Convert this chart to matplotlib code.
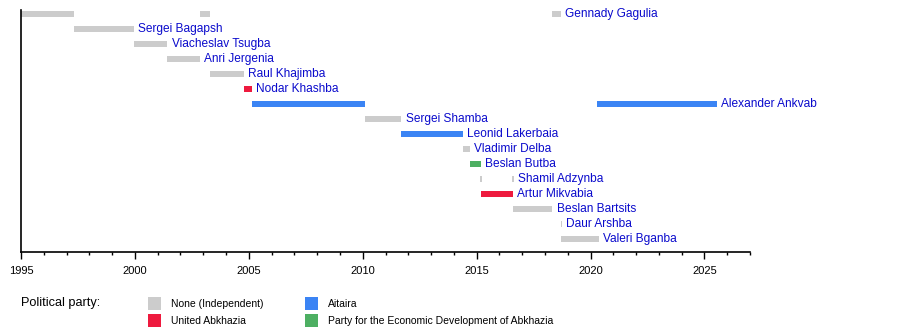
import matplotlib
matplotlib.use("Agg")
import matplotlib.pyplot as plt
from matplotlib.patches import Rectangle
from matplotlib.ticker import MultipleLocator

plt.rcParams["font.family"] = ["Liberation Sans", "DejaVu Sans"]

# --- data (decimal years) ---
names = ["Gennady Gagulia", "Sergei Bagapsh", "Viacheslav Tsugba", "Anri Jergenia",
         "Raul Khajimba", "Nodar Khashba", "Alexander Ankvab", "Sergei Shamba",
         "Leonid Lakerbaia", "Vladimir Delba", "Beslan Butba", "Shamil Adzynba",
         "Artur Mikvabia", "Beslan Bartsits", "Daur Arshba", "Valeri Bganba"]
parties = ["none", "none", "none", "none", "none", "ua", "aitaira", "none",
           "aitaira", "none", "ped", "none", "ua", "none", "none", "none"]
terms = [
    [(1995.0, 1997.32), (2002.87, 2003.28), (2018.3, 2018.72)],
    [(1997.32, 1999.97)],
    [(1999.97, 2001.43)],
    [(2001.43, 2002.87)],
    [(2003.3, 2004.77)],
    [(2004.77, 2005.12)],
    [(2005.12, 2010.12), (2020.3, 2025.55)],
    [(2010.12, 2011.7)],
    [(2011.7, 2014.38)],
    [(2014.38, 2014.72)],
    [(2014.72, 2015.2)],
    [(2015.16, 2015.22), (2016.56, 2016.62)],
    [(2015.2, 2016.58)],
    [(2016.58, 2018.33)],
    [(2018.7, 2018.76)],
    [(2018.7, 2020.38)],
]

party_colors = {"none": "#cccccc", "ua": "#ee1a3e", "aitaira": "#3b84f4",
                "ped": "#4daf62"}
legend_rows = [("none", "None (Independent)"), ("ua", "United Abkhazia"),
               ("aitaira", "Aitaira"),
               ("ped", "Party for the Economic Development of Abkhazia")]

W, H = 900, 330
fig = plt.figure(figsize=(9, 3.3), dpi=100)
ax = fig.add_axes([21 / W, 1 - 252 / H, (750 - 21) / W, (252 - 10) / H])

for i, (name, party, spans) in enumerate(zip(names, parties, terms)):
    for s, e in spans:
        ax.barh(i, e - s, left=s, height=0.42, color=party_colors[party], lw=0)
    ax.text(spans[-1][1] + 0.18, i, name, va="center", ha="left",
            fontsize=8.6, color="#0a0acc")

ax.set_xlim(1995, 2027)
ax.set_ylim(15.87, -0.27)
ax.set_yticks([])
ax.xaxis.set_major_locator(MultipleLocator(5))
ax.xaxis.set_minor_locator(MultipleLocator(1))
ax.tick_params(axis="x", which="major", length=5, width=1, labelsize=8, pad=5)
ax.tick_params(axis="x", which="minor", length=2.5, width=1)
for sp in ["top", "right"]:
    ax.spines[sp].set_visible(False)
ax.spines["left"].set_linewidth(1.2)
ax.spines["bottom"].set_linewidth(1.2)


def px(x, y):
    return x / W, 1 - y / H


# --- legend drawn in figure pixels ---
fig.text(*px(21, 303), "Political party:", fontsize=9.2, va="center", ha="left")
swatch_pos = [(148, 297), (148, 314), (305, 297), (305, 314)]
for (key, label), (x0, y0) in zip(legend_rows, swatch_pos):
    fx, fy = px(x0, y0 + 13)
    fig.patches.append(Rectangle((fx, fy), 13 / W, 13 / H, transform=fig.transFigure,
                                 color=party_colors[key], lw=0))
    fig.text(*px(x0 + 23, y0 + 7), label, fontsize=7.5, va="center", ha="left")

fig.savefig("out.png", dpi=100)
